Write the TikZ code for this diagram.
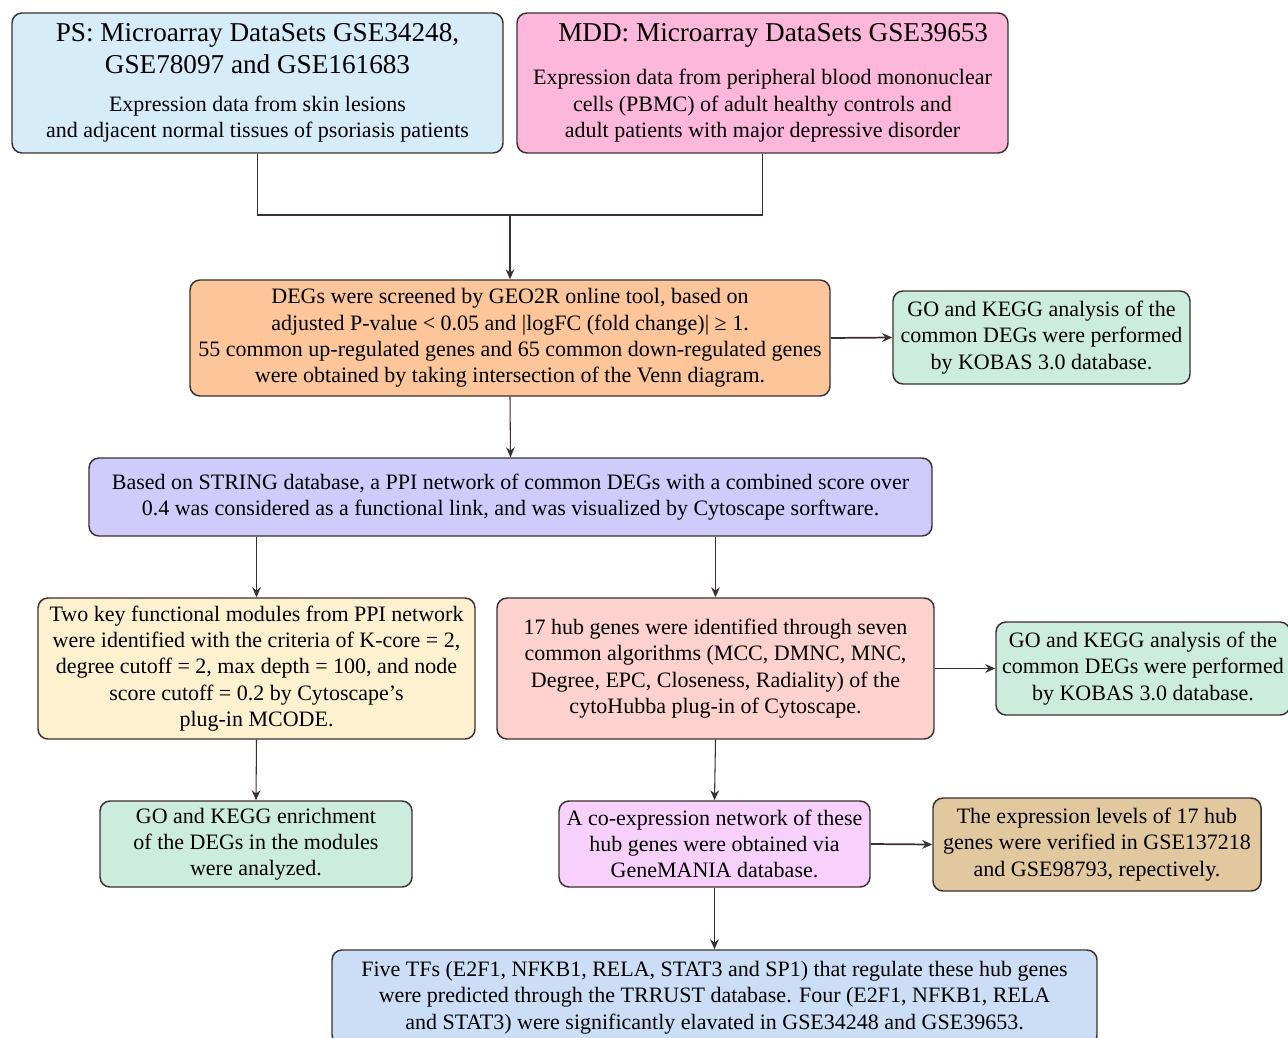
\documentclass[tikz,border=0pt]{standalone}
\usepackage{fontspec}
\setmainfont{Liberation Serif}
\usetikzlibrary{arrows.meta}
\definecolor{lc}{HTML}{3B3030}
\definecolor{cps}{HTML}{D6ECF9}
\definecolor{cmdd}{HTML}{FDB7DB}
\definecolor{cdeg}{HTML}{FCC59A}
\definecolor{cgrn}{HTML}{CCEDDE}
\definecolor{cstr}{HTML}{CFCCFB}
\definecolor{cyel}{HTML}{FEF1D0}
\definecolor{cred}{HTML}{FDD1CE}
\definecolor{cmag}{HTML}{F7D1FB}
\definecolor{ctan}{HTML}{E1C89E}
\definecolor{cblu}{HTML}{CCDDF6}
\newcommand\bodyfont{\fontsize{16.5}{19.7}\selectfont}
\newcommand\titlefont{\fontsize{20.4}{24}\selectfont}
\tikzset{
  box/.style 2 args={draw=lc, line width=1.1pt, rounded corners=7.5pt,
    minimum width=#1*0.75pt, minimum height=#2*0.75pt, align=center,
    inner sep=0pt, text=black, font=\bodyfont},
  conn/.style={draw=lc, line width=0.8pt},
  arr/.style={conn, -{Stealth[length=7.5pt,width=6.5pt]}},
  harr/.style={arr, line width=1.3pt},
}
\begin{document}
\begin{tikzpicture}[x=0.75pt,y=-0.75pt]
\useasboundingbox (0,0) rectangle (1288,1038);
\begin{scope}
\clip (0,0) rectangle (1288,1038);
\node[box={491}{140}, fill=cps] (ps) at (257.5,83)
 {{\titlefont PS: Microarray DataSets GSE34248,}\\[4.3pt]
  {\titlefont GSE78097 and GSE161683}\\[8.5pt]
  Expression data from skin lesions\\
  and adjacent normal tissues of psoriasis patients};
\node[box={491}{140}, fill=cmdd] (mdd) at (762.5,83)
 {\hspace*{16pt}{\titlefont MDD: Microarray DataSets GSE39653}\\[12.5pt]
  Expression data from peripheral blood mononuclear\\
  cells (PBMC) of adult healthy controls and\\
  adult patients with major depressive disorder};
\node[box={640}{116}, fill=cdeg] (deg) at (510,338)
 {DEGs were screened by GEO2R online tool, based on\\
  adjusted P-value < 0.05 and |logFC (fold change)| ≥ 1.\\
  55 common up-regulated genes and 65 common down-regulated genes\\
  were obtained by taking intersection of the Venn diagram.};
\node[box={297}{93}, fill=cgrn] (g1) at (1041.5,337.5)
 {GO and KEGG analysis of the\\
  common DEGs were performed\\
  by KOBAS 3.0 database.};
\node[box={843}{78}, fill=cstr] (str) at (510.5,497)
 {Based on STRING database, a PPI network of common DEGs with a combined score over\\
  0.4 was considered as a functional link, and was visualized by Cytoscape sorftware.};
\node[box={437}{141}, fill=cyel] (yel) at (256.5,668.5)
 {Two key functional modules from PPI network\\
  were identified with the criteria of K-core = 2,\\
  degree cutoff = 2, max depth = 100, and node\\
  score cutoff = 0.2 by Cytoscape’s\\
  plug-in MCODE.};
\node[box={437}{141}, fill=cred] (red) at (715.5,668.5)
 {17 hub genes were identified through seven\\
  common algorithms (MCC, DMNC, MNC,\\
  Degree, EPC, Closeness, Radiality) of the\\
  cytoHubba plug-in of Cytoscape.};
\node[box={294}{93}, fill=cgrn] (g2) at (1143,668.5)
 {GO and KEGG analysis of the\\
  common DEGs were performed\\
  by KOBAS 3.0 database.};
\node[box={312}{86}, fill=cgrn] (g3) at (256,844)
 {GO and KEGG enrichment\\
  of the DEGs in the modules\\
  were analyzed.};
\node[box={311}{86}, fill=cmag] (mag) at (714.5,844)
 {A co-expression network of these\\
  hub genes were obtained via\\
  GeneMANIA database.};
\node[box={328}{93}, fill=ctan] (tan) at (1097,844.5)
 {The expression levels of 17 hub\\
  genes were verified in GSE137218\\
  and GSE98793, repectively.};
\node[box={765}{95}, fill=cblu] (blu) at (714.5,997.5)
 {Five TFs (E2F1, NFKB1, RELA, STAT3 and SP1) that regulate these hub genes\\
  were predicted through the TRRUST database. Four (E2F1, NFKB1, RELA\\
  and STAT3) were significantly elavated in GSE34248 and GSE39653.};
\end{scope}
\coordinate (m) at (510,215);
\draw[conn] (ps.south) |- (m) -| (mdd.south);
\draw[arr] (m) -- (deg.north);
\draw[harr] (deg.east) -- (g1.west);
\draw[arr] (deg.south) -- (str.north);
\draw[arr] (str.south -| yel.north) -- (yel.north);
\draw[arr] (str.south -| red.north) -- (red.north);
\draw[harr] (red.east) -- (g2.west);
\draw[arr] (yel.south) -- (g3.north);
\draw[arr] (red.south) -- (mag.north);
\draw[harr] (mag.east) -- (tan.west);
\draw[arr] (mag.south) -- (blu.north);
\end{tikzpicture}
\end{document}
